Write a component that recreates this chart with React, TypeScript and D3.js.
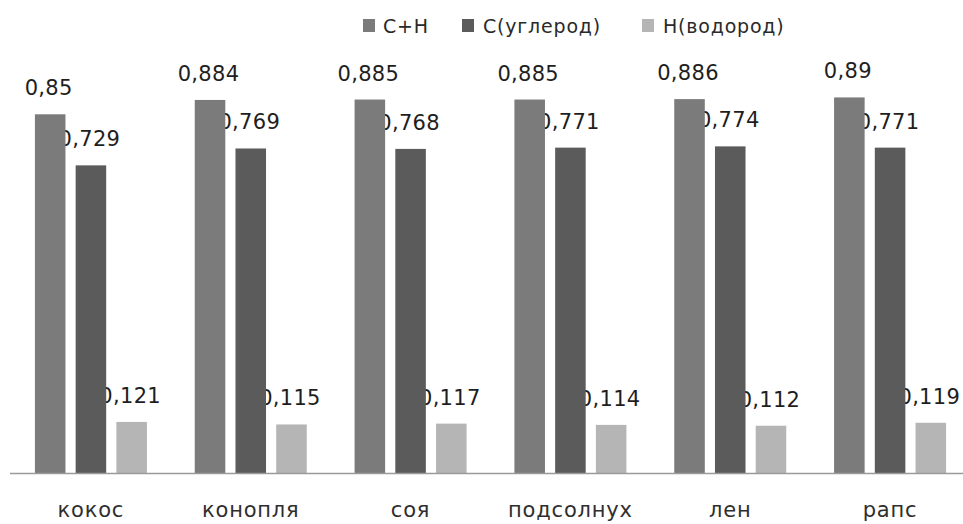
import React from "react";
import * as d3 from "d3";

// Oil crops and their carbon / hydrogen content (mass fractions)
const categories = ["кокос", "конопля", "соя", "подсолнух", "лен", "рапс"];
const seriesNames = ["C+H", "С(углерод)", "Н(водород)"];
const sumCH = [0.85, 0.884, 0.885, 0.885, 0.886, 0.89];
const carbon = [0.729, 0.769, 0.768, 0.771, 0.774, 0.771];
const hydrogen = [0.121, 0.115, 0.117, 0.114, 0.112, 0.119];
const seriesColors = ["#7b7b7b", "#5b5b5b", "#b5b5b5"];

const W = 963;
const H = 524;
const FONT = "'DejaVu Sans', Verdana, sans-serif";

function fmt(v: number): string {
  return String(v).replace(".", ",");
}

export default function App() {
  const series = [sumCH, carbon, hydrogen];

  const x0 = d3.scaleBand<string>().domain(categories).range([11, 970]).paddingInner(0).paddingOuter(0);
  const x1 = d3
    .scaleBand<number>()
    .domain([0, 1, 2])
    .range([-56, 56])
    .paddingInner(0.25)
    .paddingOuter(0);
  const y = d3.scaleLinear().domain([0, 1]).range([473, 51]);

  const groupCenter = (c: string) => (x0(c) ?? 0) + x0.bandwidth() / 2;

  const legendItems = [
    { x: 363, textX: 383 },
    { x: 462, textX: 483 },
    { x: 642, textX: 663 },
  ];

  return (
    <svg
      width={W}
      height={H}
      style={{ position: "absolute", left: 0, top: 0, background: "#fff" }}
      fontFamily={FONT}
    >
      {/* legend */}
      {seriesNames.map((name, i) => (
        <g key={name}>
          <rect x={legendItems[i].x} y={19} width={12} height={13} fill={seriesColors[i]} />
          <text
            x={legendItems[i].textX}
            y={33}
            fontSize={19}
            letterSpacing={0.8}
            fill="#2a2a2a"
          >
            {name}
          </text>
        </g>
      ))}

      {/* value labels, drawn beneath the bars */}
      {series.map((vals, si) =>
        categories.map((c, ci) => {
          const bx = groupCenter(c) + (x1(si) ?? 0);
          return (
            <text
              key={`l-${si}-${ci}`}
              x={bx + x1.bandwidth() / 2 - 1.5}
              y={y(vals[ci]) - 19}
              textAnchor="middle"
              fontSize={21}
              letterSpacing={0.3}
              fill="#1e1e1e"
            >
              {fmt(vals[ci])}
            </text>
          );
        })
      )}

      {/* bars */}
      {series.map((vals, si) =>
        categories.map((c, ci) => {
          const bx = groupCenter(c) + (x1(si) ?? 0);
          return (
            <rect
              key={`b-${si}-${ci}`}
              x={bx}
              y={y(vals[ci])}
              width={x1.bandwidth()}
              height={y(0) - y(vals[ci])}
              fill={seriesColors[si]}
            />
          );
        })
      )}

      {/* category axis */}
      <line x1={10} x2={963} y1={y(0) + 0.5} y2={y(0) + 0.5} stroke="#9a9a9a" strokeWidth={1.5} />
      {categories.map((c) => (
        <text
          key={c}
          x={groupCenter(c)}
          y={517}
          textAnchor="middle"
          fontSize={21}
          letterSpacing={0.8}
          fill="#2e2e2e"
        >
          {c}
        </text>
      ))}
    </svg>
  );
}
